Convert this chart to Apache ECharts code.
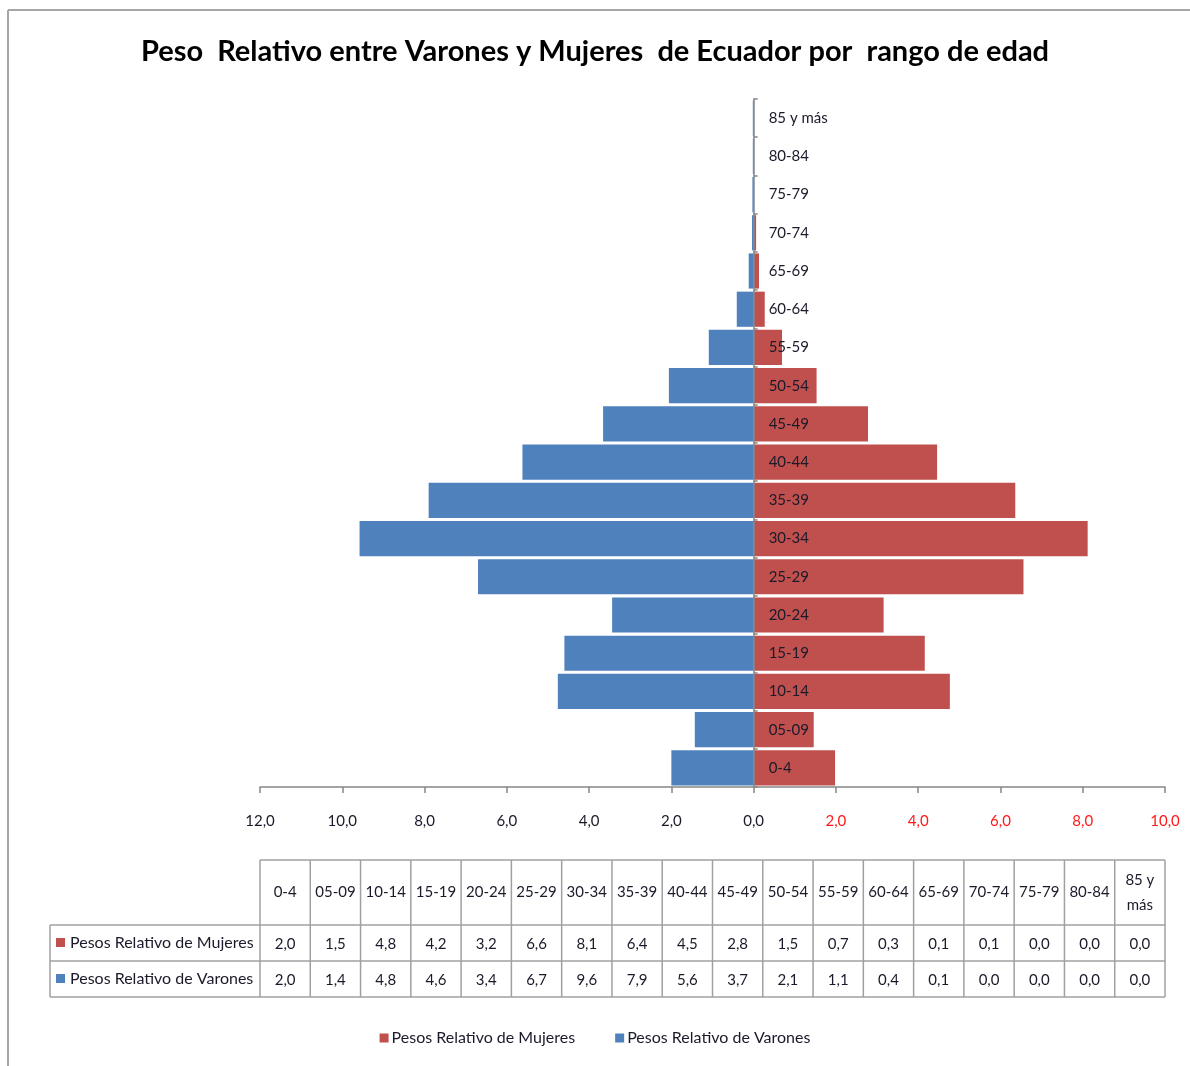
<!DOCTYPE html>
<html>
<head>
<meta charset="utf-8">
<script src="https://cdn.jsdelivr.net/npm/echarts@6/dist/echarts.min.js"></script>
<style>
html,body{margin:0;padding:0;background:#fff;}
#chart{width:1190px;height:1066px;}
</style>
</head>
<body>
<div id="chart"></div>
<script>
// ---- data ----
var categories = ['0-4','05-09','10-14','15-19','20-24','25-29','30-34','35-39','40-44','45-49','50-54','55-59','60-64','65-69','70-74','75-79','80-84','85 y más'];
var mujeres = [1.98, 1.46, 4.77, 4.16, 3.16, 6.56, 8.12, 6.36, 4.46, 2.78, 1.53, 0.69, 0.27, 0.13, 0.06, 0.01, 0.01, 0.01];
var varones = [2.0, 1.43, 4.76, 4.6, 3.44, 6.7, 9.58, 7.9, 5.62, 3.66, 2.06, 1.09, 0.41, 0.12, 0.04, 0.03, 0.02, 0.02];
var seriesNames = ['Pesos Relativo de Mujeres', 'Pesos Relativo de Varones'];
var colors = ['#C0504D', '#4F81BD'];
var titleText = 'Peso  Relativo entre Varones y Mujeres  de Ecuador por  rango de edad';
var xMin = -12, xMax = 10, xStep = 2;

var FONT = 'Lato, "Open Sans", sans-serif';
function fmt(v){ return Math.abs(v).toFixed(1).replace('.', ','); }

// ---- layout ----
var gridLeft = 260, gridRight = 25, gridTop = 99, gridBottom = 279, W = 1190;
var gridW = W - gridLeft - gridRight;
var zeroOffset = -gridW * (0 - xMin) / (xMax - xMin);

// ---- table (built from the arrays) ----
var tX0 = gridLeft, tX1 = W - gridRight, tLeft = 50;
var rowsY = [860, 925, 961, 997];
var colW = (tX1 - tX0) / categories.length;
var lineColor = '#a0a0a0';
var g = [];
function hline(x1, x2, y){ g.push({type:'line', shape:{x1:x1,y1:y,x2:x2,y2:y}, style:{stroke:lineColor, lineWidth:1.5}, silent:true}); }
function vline(x, y1, y2){ g.push({type:'line', shape:{x1:x,y1:y1,x2:x,y2:y2}, style:{stroke:lineColor, lineWidth:1.5}, silent:true}); }
hline(tX0, tX1, rowsY[0]);
hline(tLeft, tX1, rowsY[1]);
hline(tLeft, tX1, rowsY[2]);
hline(tLeft, tX1, rowsY[3]);
vline(tLeft, rowsY[1], rowsY[3]);
for (var i = 0; i <= categories.length; i++) vline(tX0 + i*colW, rowsY[0], rowsY[3]);
var textStyleBase = {fontFamily: FONT, fontSize: 15, fill: '#1a1a2a'};
categories.forEach(function(c, i){
  var label = c.length > 6 ? c.replace(/ (\S+)$/, '\n$1') : c;
  g.push({type:'text', x: tX0 + (i+0.5)*colW, y: (rowsY[0]+rowsY[1])/2, silent:true,
    style: Object.assign({}, textStyleBase, {text: label, align:'center', verticalAlign:'middle', lineHeight: 25})});
  [mujeres, varones].forEach(function(arr, r){
    g.push({type:'text', x: tX0 + (i+0.5)*colW, y: (rowsY[r+1]+rowsY[r+2])/2 + 1, silent:true,
      style: Object.assign({}, textStyleBase, {text: fmt(arr[i]), align:'center', verticalAlign:'middle'})});
  });
});
seriesNames.forEach(function(n, r){
  var cy = (rowsY[r+1]+rowsY[r+2])/2;
  g.push({type:'rect', shape:{x:56, y:cy-5, width:9, height:9}, style:{fill:colors[r]}, silent:true});
  g.push({type:'text', x:70, y:cy, silent:true,
    style: Object.assign({}, textStyleBase, {text:n, fontSize:16, align:'left', verticalAlign:'middle'})});
});
// outer chart border
g.push({type:'line', shape:{x1:8,y1:10,x2:1195,y2:10}, style:{stroke:'#a6a6a6', lineWidth:2}, silent:true});
g.push({type:'line', shape:{x1:8,y1:10,x2:8,y2:1070}, style:{stroke:'#a6a6a6', lineWidth:2}, silent:true});

var chart = echarts.init(document.getElementById('chart'));
chart.setOption({
  animation: false,
  backgroundColor: '#fff',
  title: {
    text: titleText, left: 'center', top: 32,
    textStyle: {fontFamily: FONT, fontSize: 29, fontWeight: 'bold', color: '#000'}
  },
  legend: {
    data: seriesNames, bottom: 15, left: 'center', icon: 'rect', itemWidth: 9, itemHeight: 9, itemGap: 40,
    textStyle: {fontFamily: FONT, fontSize: 16, color: '#1a1a2a', padding:[0,0,0,-2]}
  },
  grid: {left: gridLeft, right: gridRight, top: gridTop, bottom: gridBottom, containLabel: false},
  xAxis: {
    type: 'value', min: xMin, max: xMax, interval: xStep,
    axisLine: {show: true, lineStyle: {color: '#868686', width: 1.5}},
    axisTick: {show: true, length: 6, lineStyle: {color: '#868686', width: 1.5}},
    splitLine: {show: false},
    axisLabel: {
      margin: 27, fontFamily: FONT, fontSize: 15,
      formatter: function(v){ return v > 0 ? '{p|' + fmt(v) + '}' : '{n|' + fmt(v) + '}'; },
      rich: {p: {color: '#ff1a1a', fontFamily: FONT, fontSize: 15}, n: {color: '#1a1a2a', fontFamily: FONT, fontSize: 15}}
    }
  },
  yAxis: {
    type: 'category', data: categories, z: 5, position: 'left', offset: zeroOffset,
    axisLine: {show: true, onZero: false, lineStyle: {color: '#868686', width: 1.5}},
    axisTick: {show: true, inside: true, length: 4, lineStyle: {color: '#868686', width: 1.5}},
    axisLabel: {inside: true, margin: 15, fontFamily: FONT, fontSize: 15, color: '#1a1a2a'}
  },
  series: [
    {name: seriesNames[0], type: 'bar', data: mujeres, barGap: '-100%', barCategoryGap: '8%',
     itemStyle: {color: colors[0]}},
    {name: seriesNames[1], type: 'bar', data: varones.map(function(v){ return -v; }), barGap: '-100%', barCategoryGap: '8%',
     itemStyle: {color: colors[1]}}
  ],
  graphic: g
});
</script>
</body>
</html>
